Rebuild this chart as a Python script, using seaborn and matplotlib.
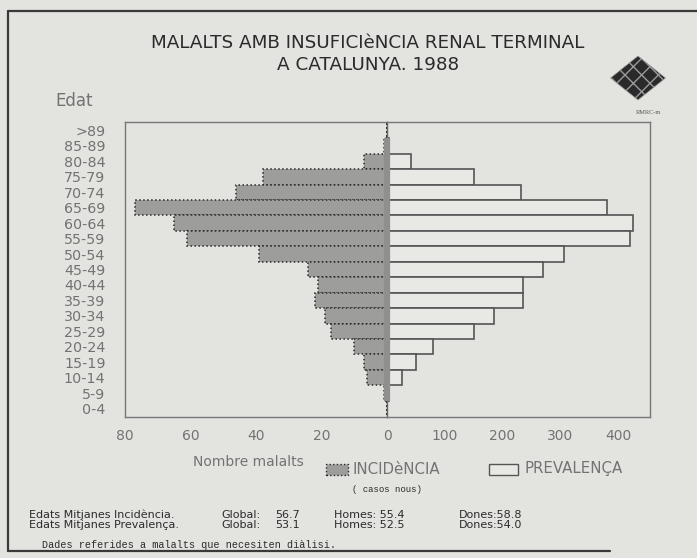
import matplotlib
matplotlib.use("Agg")
import matplotlib.pyplot as plt
import matplotlib.patches as mpatches
import matplotlib.lines as mlines
import pandas as pd
import seaborn as sns

# ── data ──────────────────────────────────────────────────────────────────────
edats = ["0-4", "5-9", "10-14", "15-19", "20-24", "25-29", "30-34", "35-39",
         "40-44", "45-49", "50-54", "55-59", "60-64", "65-69", "70-74",
         "75-79", "80-84", "85-89", ">89"]
incidencia = [0, 1, 6, 7, 10, 17, 19, 22, 21, 24, 39, 61, 65, 77, 46, 38, 7, 1, 0]
prevalencia = [0, 4, 26, 50, 80, 151, 185, 235, 235, 270, 307, 421, 425, 380,
               232, 151, 42, 4, 0]

inc_ticks = [80, 60, 40, 20, 0]
prev_ticks = [100, 200, 300, 400]

stats_inc = ["56.7", "55.4", "58.8"]
stats_prev = ["53.1", "52.5", "54.0"]

# ── style ─────────────────────────────────────────────────────────────────────
sns.set_theme(style="white")
plt.rcParams["font.family"] = ["DejaVu Sans"]

BG = "#e3e3e0"
INK = "#2b2b2b"
GREY_TXT = "#737373"
INC_FILL = "#9d9d9b"
PREV_FILL = "#e8e8e5"

W, H = 697, 558
fig = plt.figure(figsize=(W / 100, H / 100), dpi=100, facecolor=BG)


def fx(x):
    return x / W


def fy(y):
    return 1 - y / H


df = pd.DataFrame({"edat": edats, "inc": incidencia, "prev": prevalencia})
order = edats[::-1]  # >89 on top

x0, xm, x1 = 125, 387, 650
ytop, ybot = 122, 417
ax_l = fig.add_axes([fx(x0), fy(ybot), (xm - x0) / W, (ybot - ytop) / H])
ax_r = fig.add_axes([fx(xm), fy(ybot), (x1 - xm) / W, (ybot - ytop) / H])

sns.barplot(data=df, x="inc", y="edat", order=order, orient="h", ax=ax_l,
            width=1.0, color=INC_FILL, saturation=1, edgecolor=INK,
            linewidth=1.1, linestyle=(0, (1, 1.6)))
sns.barplot(data=df, x="prev", y="edat", order=order, orient="h", ax=ax_r,
            width=1.0, color=PREV_FILL, saturation=1, edgecolor="#555555",
            linewidth=1.2)

ny = len(edats)
for ax in (ax_l, ax_r):
    ax.set_facecolor(BG)
    ax.set_ylim(ny - 0.45, -0.55)
    ax.set_xlabel("")
    ax.set_ylabel("")
    ax.tick_params(length=0)
    for s in ax.spines.values():
        s.set_color("#777777")
        s.set_linewidth(1.0)

ax_l.set_xlim(80, 0)
ax_l.spines["right"].set_visible(False)
ax_l.set_xticks(inc_ticks)
ax_l.set_xticklabels([str(t) for t in inc_ticks], color=GREY_TXT, fontsize=10)
ax_l.tick_params(axis="x", pad=9)
ax_l.tick_params(axis="y", pad=14)
ax_l.set_yticks(range(ny))
ax_l.set_yticklabels(order, color=GREY_TXT, fontsize=10.3)

ax_r.set_xlim(0, 455)
ax_r.set_xticks(prev_ticks)
ax_r.set_xticklabels([str(t) for t in prev_ticks], color=GREY_TXT, fontsize=10)
ax_r.tick_params(axis="x", pad=9)
ax_r.set_yticks([])
ax_r.spines["left"].set_color("#666666")

# thick grey strip along the zero line (85-89 down to 5-9)
i_top = order.index("85-89") - 0.5
i_bot = order.index("5-9") + 0.5
ax_r.vlines(0, i_top, i_bot, color="#8f8f8d", linewidth=4.5, clip_on=False,
            zorder=5)

# ── titles & labels ───────────────────────────────────────────────────────────
fig.text(fx(368), fy(43), "MALALTS AMB INSUFICIèNCIA RENAL TERMINAL",
         ha="center", va="center", fontsize=13.2, color=INK)
fig.text(fx(368), fy(65), "A CATALUNYA. 1988",
         ha="center", va="center", fontsize=13.2, color=INK)
fig.text(fx(55), fy(101), "Edat", ha="left", va="center", fontsize=12,
         color=GREY_TXT)
fig.text(fx(248), fy(462), "Nombre malalts", ha="center", va="center",
         fontsize=10, color=GREY_TXT)

# legend
fig.patches.append(mpatches.Rectangle((fx(326), fy(475)), 22 / W, 11 / H,
                                      transform=fig.transFigure,
                                      facecolor=INC_FILL, edgecolor=INK,
                                      linewidth=1.0, linestyle=(0, (1, 1.6))))
fig.text(fx(353), fy(469), "INCIDèNCIA", ha="left", va="center",
         fontsize=10.8, color=GREY_TXT)
fig.patches.append(mpatches.Rectangle((fx(489), fy(475)), 29 / W, 11 / H,
                                      transform=fig.transFigure,
                                      facecolor=PREV_FILL, edgecolor="#555555",
                                      linewidth=1.0))
fig.text(fx(524), fy(469), "PREVALENÇA", ha="left", va="center",
         fontsize=10.8, color=GREY_TXT)
fig.text(fx(387), fy(490), "( casos nous)", ha="center", va="center",
         fontsize=6.5, color=INK, family="Liberation Mono")

# mean ages
for y, lbl, vals in [(514.5, "Incidència.", stats_inc),
                     (525, "Prevalença.", stats_prev)]:
    kw = dict(ha="left", va="center", fontsize=8, color=INK)
    fig.text(fx(29), fy(y), f"Edats Mitjanes {lbl}", **kw)
    fig.text(fx(221), fy(y), "Global:", **kw)
    fig.text(fx(275), fy(y), vals[0], **kw)
    fig.text(fx(334), fy(y), f"Homes: {vals[1]}", **kw)
    fig.text(fx(459), fy(y), f"Dones:{vals[2]}", **kw)
fig.text(fx(42), fy(545), "Dades referides a malalts que necesiten diàlisi.",
         ha="left", va="center", fontsize=7.3, color=INK,
         family="Liberation Mono")

# logo
fig.patches.append(mpatches.RegularPolygon((fx(638), fy(78)), 4, radius=22 / H,
                                           orientation=0,
                                           transform=fig.transFigure,
                                           facecolor="#2a2a2a",
                                           edgecolor="#9a9a9a", hatch="xx",
                                           linewidth=0.5))
fig.text(fx(648), fy(113), "RMRC-m", ha="center", va="center", fontsize=4.5,
         color="#555555", family="Liberation Serif")

# page frame (no right edge)
frame = dict(transform=fig.transFigure, color="#3a3a3a", linewidth=1.6)
fig.add_artist(mlines.Line2D([fx(8), 1], [fy(11), fy(11)], **frame))
fig.add_artist(mlines.Line2D([fx(8), fx(8)], [fy(11), fy(551)], **frame))
fig.add_artist(mlines.Line2D([fx(8), fx(610)], [fy(551), fy(551)], **frame))

fig.savefig("out.png", dpi=100, facecolor=BG)
